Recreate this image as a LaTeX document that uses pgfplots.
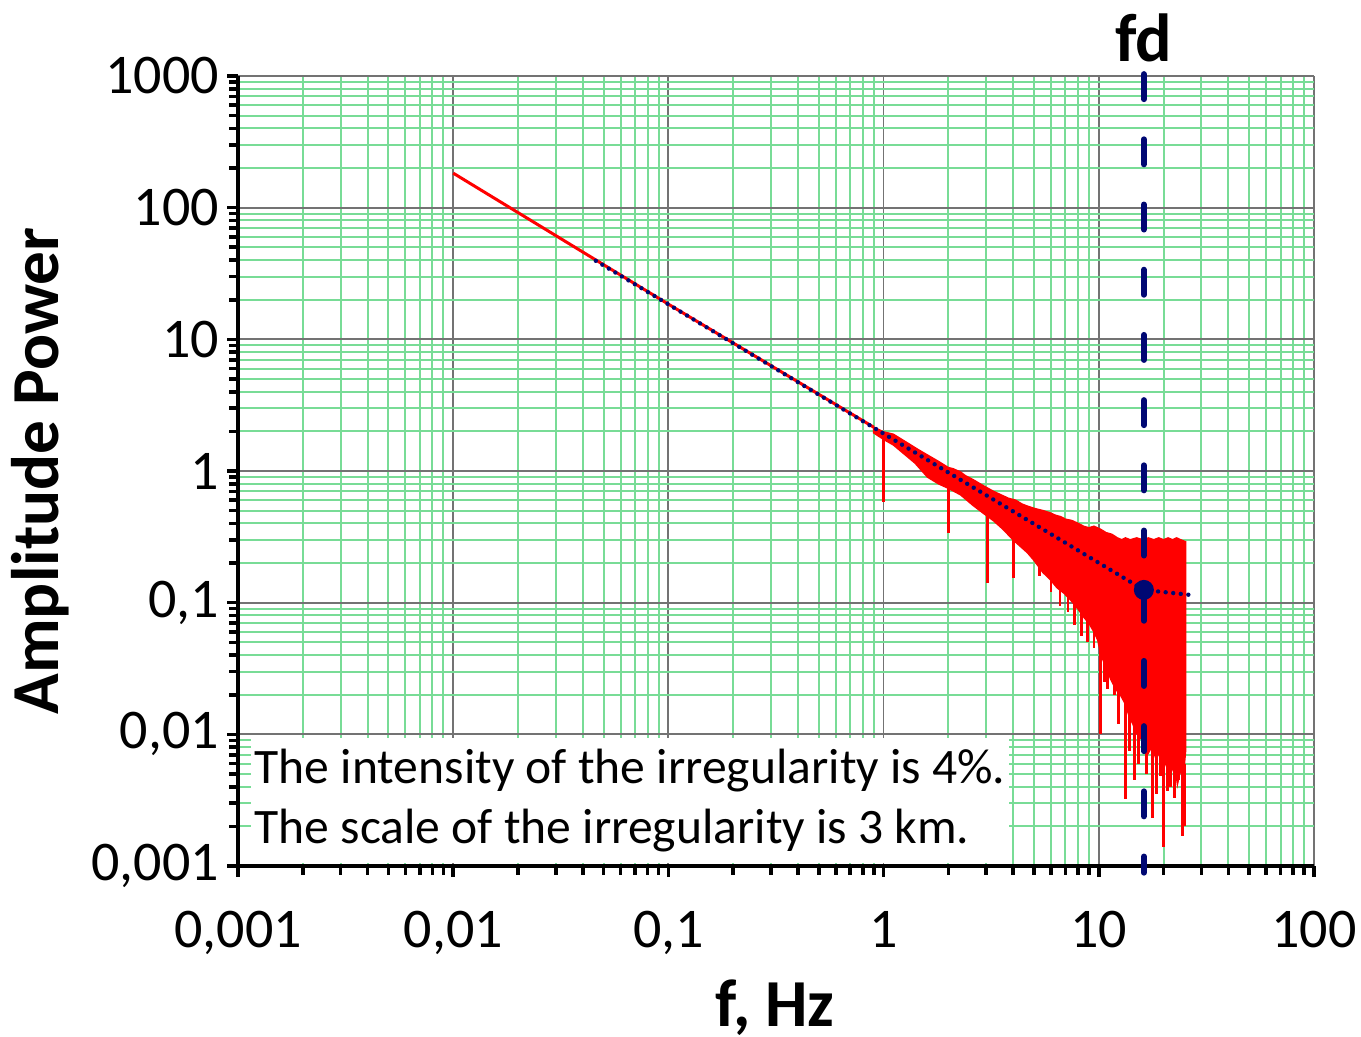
\documentclass[border=0pt]{standalone}
\usepackage{fontspec}
\setmainfont{Carlito}
\usepackage{pgfplots}
\pgfplotsset{compat=1.18}
\definecolor{fitnavy}{RGB}{0,8,115}
\definecolor{gridgreen}{RGB}{120,220,150}

\pgfplotstableread{
f v
0.9 2.15
1.0 1.98
1.11 1.9
1.3 1.62
1.45 1.45
1.6 1.32
1.8 1.18
2.0 1.06
2.1 1.04
2.28 0.98
2.4 0.92
2.6 0.86
2.8 0.80
3.0 0.75
3.24 0.70
3.5 0.66
3.8 0.62
4.1 0.60
4.4 0.56
4.66 0.54
5.0 0.52
5.5 0.50
5.95 0.48
6.3 0.46
6.64 0.45
7.0 0.43
7.5 0.42
8.0 0.40
8.5 0.38
9.0 0.37
9.5 0.38
10.2 0.36
10.8 0.34
11.5 0.33
12.2 0.31
12.8 0.30
13.3 0.31
14.0 0.30
15.0 0.31
16.0 0.30
17.0 0.31
18.0 0.30
19.0 0.31
20.0 0.30
21.0 0.31
22.0 0.30
23.0 0.31
24.0 0.30
25.3 0.29
25.3 0.0075
25.0 0.006
24.6 0.0045
24.0 0.0055
23.2 0.0042
22.5 0.006
21.5 0.005
20.8 0.0065
20.0 0.0055
19.2 0.0075
18.5 0.0065
17.6 0.008
16.8 0.007
16.0 0.009
15.1 0.010
14.4 0.012
13.8 0.014
13.3 0.017
12.6 0.020
12.0 0.022
11.4 0.026
11.0 0.030
10.6 0.035
10.2 0.041
9.9 0.052
9.5 0.060
9.0 0.070
8.5 0.078
8.0 0.090
7.4 0.105
6.9 0.118
6.4 0.13
5.95 0.15
5.5 0.17
5.0 0.21
4.66 0.24
4.3 0.27
4.0 0.30
3.6 0.36
3.24 0.42
2.9 0.48
2.6 0.55
2.28 0.66
2.0 0.74
1.8 0.80
1.6 0.90
1.4 1.15
1.2 1.42
1.11 1.58
1.0 1.74
0.9 1.95
}\noiseband

\pgfplotstableread{
f v
1.0 1.8
1.0 0.58
1.0 nan
2.0 0.9
2.0 0.34
2.0 nan
3.04 0.55
3.04 0.14
3.04 nan
4.0 0.4
4.0 0.154
4.0 nan
5.3 0.2
5.3 0.16
5.3 nan
6.0 0.16
6.0 0.12
6.0 nan
6.6 0.14
6.6 0.095
6.6 nan
7.2 0.12
7.2 0.085
7.2 nan
7.7 0.11
7.7 0.068
7.7 nan
8.3 0.09
8.3 0.056
8.3 nan
8.9 0.08
8.9 0.05
8.9 nan
9.5 0.065
9.5 0.045
9.5 nan
10.2 0.045
10.2 0.010
10.2 nan
10.6 0.04
10.6 0.025
10.6 nan
11.0 0.035
11.0 0.022
11.0 nan
11.8 0.03
11.8 0.02
11.8 nan
12.4 0.025
12.4 0.012
12.4 nan
13.3 0.02
13.3 0.0032
13.3 nan
13.9 0.016
13.9 0.0075
13.9 nan
14.6 0.013
14.6 0.0045
14.6 nan
15.3 0.011
15.3 0.006
15.3 nan
16.6 0.009
16.6 0.005
16.6 nan
17.8 0.009
17.8 0.0023
17.8 nan
18.6 0.008
18.6 0.0035
18.6 nan
19.4 0.008
19.4 0.0048
19.4 nan
20.0 0.007
20.0 0.0014
20.0 nan
20.8 0.007
20.8 0.0037
20.8 nan
21.6 0.007
21.6 0.004
21.6 nan
22.5 0.007
22.5 0.0033
22.5 nan
23.5 0.006
23.5 0.0045
23.5 nan
24.5 0.006
24.5 0.0017
24.5 nan
25.1 0.006
25.1 0.002
}\spikes

\begin{document}
\begin{tikzpicture}
\useasboundingbox (-59.5pt,-42.75pt) rectangle (280.75pt,216.5pt);
\begin{axis}[
    at={(0,0)}, anchor=south west,
    scale only axis,
    width=269pt, height=197.5pt,
    xmode=log, ymode=log,
    xmin=0.001, xmax=100,
    ymin=0.001, ymax=1000,
    axis x line*=bottom,
    axis y line*=left,
    axis line style={line width=1pt, black, -},
    clip=false,
    xtick={0.001,0.01,0.1,1,10,100},
    xticklabels={{0,001},{0,01},{0,1},1,10,100},
    ytick={0.001,0.01,0.1,1,10,100,1000},
    yticklabels={{0,001},{0,01},{0,1},1,10,100,1000},
    minor xtick={0.002,0.003,0.004,0.005,0.006,0.007,0.008,0.009,
                 0.02,0.03,0.04,0.05,0.06,0.07,0.08,0.09,
                 0.2,0.3,0.4,0.5,0.6,0.7,0.8,0.9,
                 2,3,4,5,6,7,8,9,
                 20,30,40,50,60,70,80,90},
    minor ytick={0.002,0.003,0.004,0.005,0.006,0.007,0.008,0.009,
                 0.02,0.03,0.04,0.05,0.06,0.07,0.08,0.09,
                 0.2,0.3,0.4,0.5,0.6,0.7,0.8,0.9,
                 2,3,4,5,6,7,8,9,
                 20,30,40,50,60,70,80,90,
                 200,300,400,500,600,700,800,900},
    grid=both,
    major grid style={line width=0.45pt, black!55},
    minor grid style={line width=0.5pt, gridgreen},
    tick align=outside,
    major tick length=2.75pt,
    minor tick length=2.25pt,
    every tick/.style={black, line width=0.9pt},
    tick label style={font=\fontsize{14}{16}\selectfont},
    xticklabel style={yshift=-5pt},
    yticklabel style={xshift=1.5pt},
    xlabel={f, Hz},
    ylabel={Amplitude Power},
    every axis x label/.style={at={(axis description cs:0.499,-0.18)}, anchor=center,
        inner sep=0pt, font=\fontsize{16.8}{19}\selectfont\bfseries},
    every axis y label/.style={at={(axis description cs:-0.184,0.5)}, rotate=90, anchor=center,
        inner sep=0pt, font=\fontsize{16.8}{19}\selectfont\bfseries},
]
% clean low-frequency part of the spectrum
\addplot[red, line width=0.75pt] coordinates {(0.01,183) (0.1,18.5) (0.9,2.15)};
% noisy high-frequency band
\addplot[red, fill=red, line width=0.4pt] table {\noiseband} -- cycle;
\addplot[red, line width=0.7pt, unbounded coords=jump] table {\spikes};
% power-law fit
\addplot[fitnavy, line width=1.1pt, line cap=round, dash pattern=on 0pt off 1.9pt]
    coordinates {(0.046,39.5) (16.2,0.125) (27.3,0.114)};
% fd marker
\addplot[fitnavy, line width=1.5pt, line cap=round, dash pattern=on 6.25pt off 10.05pt]
    coordinates {(16.2,1033) (16.2,0.00089)};
\addplot[fitnavy, only marks, mark=*, mark size=2.3pt] coordinates {(16.2,0.125)};
\node[font=\fontsize{17}{19}\selectfont\bfseries, anchor=base, yshift=3.5pt]
    at (axis cs:16.2,1000) {fd};
\node[fill=white, anchor=south west, inner xsep=1pt, inner ysep=2.7pt, align=left,
      font=\fontsize{12.4}{15}\selectfont, xshift=3pt, yshift=0.6pt]
    at (rel axis cs:0,0) {The intensity of the irregularity is 4\%.\\The scale of the irregularity is 3 km.};
\end{axis}
\end{tikzpicture}
\end{document}
